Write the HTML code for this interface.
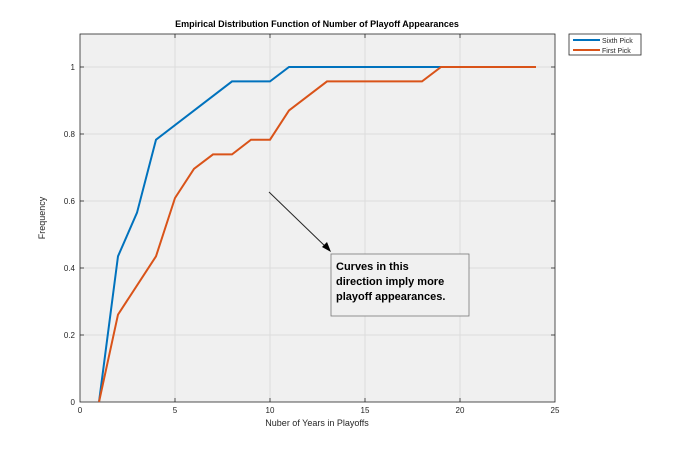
<!DOCTYPE html>
<html><head><style>body{margin:0;background:#fff}</style></head><body>
<svg width="700" height="452" xmlns="http://www.w3.org/2000/svg" font-family="Liberation Sans, sans-serif">
<rect x="0" y="0" width="700" height="452" fill="#fff"/>
<rect x="80" y="34" width="475" height="368" fill="#f0f0f0"/>
<g stroke="#dcdcdc" stroke-width="1">
<line x1="175" y1="34" x2="175" y2="402"/><line x1="270" y1="34" x2="270" y2="402"/><line x1="365" y1="34" x2="365" y2="402"/><line x1="460" y1="34" x2="460" y2="402"/>
<line x1="80" y1="335" x2="555" y2="335"/><line x1="80" y1="268" x2="555" y2="268"/><line x1="80" y1="201" x2="555" y2="201"/><line x1="80" y1="134" x2="555" y2="134"/><line x1="80" y1="67" x2="555" y2="67"/>
</g>
<rect x="80" y="34" width="475" height="368" fill="none" stroke="#262626" stroke-width="0.8"/>
<g stroke="#262626" stroke-width="0.8">
<line x1="175" y1="402" x2="175" y2="398"/><line x1="270" y1="402" x2="270" y2="398"/><line x1="365" y1="402" x2="365" y2="398"/><line x1="460" y1="402" x2="460" y2="398"/>
<line x1="175" y1="34" x2="175" y2="38"/><line x1="270" y1="34" x2="270" y2="38"/><line x1="365" y1="34" x2="365" y2="38"/><line x1="460" y1="34" x2="460" y2="38"/>
<line x1="80" y1="335" x2="84" y2="335"/><line x1="80" y1="268" x2="84" y2="268"/><line x1="80" y1="201" x2="84" y2="201"/><line x1="80" y1="134" x2="84" y2="134"/><line x1="80" y1="67" x2="84" y2="67"/>
<line x1="555" y1="335" x2="551" y2="335"/><line x1="555" y1="268" x2="551" y2="268"/><line x1="555" y1="201" x2="551" y2="201"/><line x1="555" y1="134" x2="551" y2="134"/><line x1="555" y1="67" x2="551" y2="67"/>
</g>
<g font-size="8" fill="#262626" text-anchor="middle">
<text x="80" y="413">0</text><text x="175" y="413">5</text><text x="270" y="413">10</text><text x="365" y="413">15</text><text x="460" y="413">20</text><text x="555" y="413">25</text>
</g>
<g font-size="8" fill="#262626" text-anchor="end">
<text x="75" y="405">0</text><text x="75" y="338">0.2</text><text x="75" y="271">0.4</text><text x="75" y="204">0.6</text><text x="75" y="137">0.8</text><text x="75" y="70">1</text>
</g>
<text x="317" y="426" font-size="9" fill="#262626" text-anchor="middle">Nuber of Years in Playoffs</text>
<text transform="translate(45,218) rotate(-90)" font-size="9" fill="#262626" text-anchor="middle">Frequency</text>
<text x="317" y="27" font-size="9" font-weight="bold" fill="#000" text-anchor="middle">Empirical Distribution Function of Number of Playoff Appearances</text>
<polyline fill="none" stroke="#0072bd" stroke-width="2" points="99,402 118,256.3 137,212.7 156,139.7 232,81.4 270,81.4 289,67 441,67"/>
<polyline fill="none" stroke="#d95319" stroke-width="2" points="99,402 118,314.6 156,256.3 175,198 194,168.8 213,154.4 232,154.4 251,139.7 270,139.7 289,110.5 327,81.4 422,81.4 441,67 536,67"/>
<line x1="269" y1="192" x2="328" y2="249" stroke="#262626" stroke-width="1"/>
<polygon points="331,252 322,247 327,242" fill="#000"/>
<rect x="331" y="254" width="138" height="62" fill="#f0f0f0" stroke="#777" stroke-width="0.8"/>
<g font-size="11" font-weight="bold" fill="#000">
<text x="336" y="270">Curves in this</text><text x="336" y="285">direction imply more</text><text x="336" y="300">playoff appearances.</text>
</g>
<rect x="569" y="34" width="72" height="21" fill="#fff" stroke="#262626" stroke-width="0.8"/>
<line x1="573" y1="40" x2="600" y2="40" stroke="#0072bd" stroke-width="2"/>
<line x1="573" y1="50" x2="600" y2="50" stroke="#d95319" stroke-width="2"/>
<g font-size="7" fill="#262626"><text x="602" y="43">Sixth Pick</text><text x="602" y="53">First Pick</text></g>
</svg>
</body></html>
